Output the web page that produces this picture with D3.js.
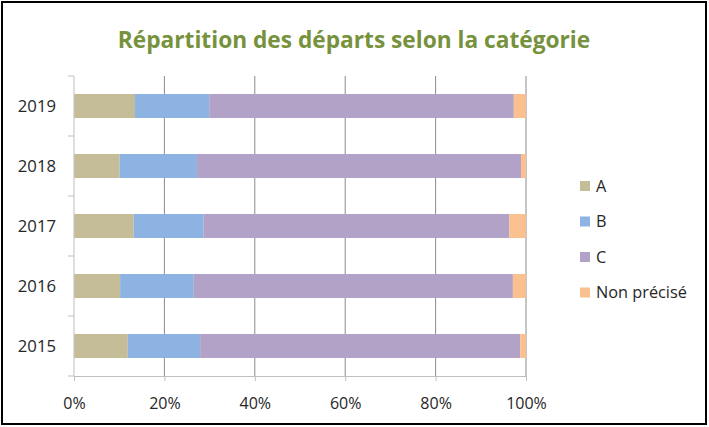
<!DOCTYPE html>
<html>
<head>
<meta charset="utf-8">
<script src="https://cdn.jsdelivr.net/npm/d3@7"></script>
<style>
  body { margin: 0; background: #fff; }
  text { font-family: "Open Sans", "Noto Sans", sans-serif; fill: #262626; }
</style>
</head>
<body>
<svg id="chart" width="709" height="427"></svg>
<script>
// Data (share in %)
const years = ["2015", "2016", "2017", "2018", "2019"];
const categories = ["A", "B", "C", "Non précisé"];
const valuesA = [11.9, 10.2, 13.2, 10.1, 13.5];
const valuesB = [16.0, 16.3, 15.5, 17.1, 16.4];
const valuesC = [70.8, 70.6, 67.6, 71.7, 67.4];
const valuesNP = [1.3, 2.9, 3.7, 1.1, 2.7];
const xTicks = [0, 20, 40, 60, 80, 100];
const colors = ["#c4bd97", "#8db3e2", "#b2a2c7", "#fac090"];

const svg = d3.select("#chart");

// outer frame
svg.append("rect")
  .attr("x", 2).attr("y", 2)
  .attr("width", 704).attr("height", 422)
  .attr("fill", "#fff").attr("stroke", "#000").attr("stroke-width", 2);

// title
svg.append("text")
  .attr("x", 354).attr("y", 48)
  .attr("text-anchor", "middle")
  .style("font-size", "22.7px").style("font-weight", "bold")
  .style("fill", "#76923c")
  .text("Répartition des départs selon la catégorie");

const margin = { top: 76, left: 74 };
const width = 452, height = 300;

const g = svg.append("g")
  .attr("transform", "translate(" + margin.left + "," + margin.top + ")");

const x = d3.scaleLinear().domain([0, 100]).range([0, width]);
// 2019 on top
const y = d3.scaleBand().domain(years.slice().reverse()).range([0, height]).paddingInner(0.6).paddingOuter(0.3);

// gridlines
g.selectAll("line.grid")
  .data(xTicks.slice(1))
  .enter().append("line")
  .attr("class", "grid")
  .attr("x1", d => x(d)).attr("x2", d => x(d))
  .attr("y1", 0).attr("y2", height)
  .attr("stroke", "#8c8c8c").attr("stroke-width", 1);

// stacked series
const rows = years.map((yr, i) => ({
  year: yr,
  "A": valuesA[i],
  "B": valuesB[i],
  "C": valuesC[i],
  "Non précisé": valuesNP[i]
}));
const series = d3.stack().keys(categories)(rows);

g.selectAll("g.series")
  .data(series)
  .enter().append("g")
  .attr("class", "series")
  .attr("fill", (d, i) => colors[i])
  .selectAll("rect")
  .data(d => d)
  .enter().append("rect")
  .attr("x", d => x(d[0]))
  .attr("width", d => x(d[1]) - x(d[0]))
  .attr("y", d => y(d.data.year))
  .attr("height", y.bandwidth());

// x axis
const xAxis = g.append("g")
  .attr("transform", "translate(0," + height + ")")
  .call(d3.axisBottom(x).tickValues(xTicks).tickFormat(d => d + "%").tickSize(5).tickSizeOuter(0));
xAxis.select(".domain").attr("stroke", "#bfbfbf");
xAxis.selectAll(".tick line").attr("stroke", "#bfbfbf");
xAxis.selectAll(".tick text")
  .attr("y", 22)
  .style("font-size", "16px")
  .style("font-family", "'Open Sans', sans-serif")
  .attr("fill", "#262626");

// y axis: ticks sit on category boundaries
const yAxis = g.append("g");
yAxis.append("line")
  .attr("x1", 0).attr("x2", 0).attr("y1", 0).attr("y2", height)
  .attr("stroke", "#bfbfbf");
const step = height / years.length;
yAxis.selectAll("line.ytick")
  .data(d3.range(years.length + 1))
  .enter().append("line")
  .attr("class", "ytick")
  .attr("x1", -6).attr("x2", 0)
  .attr("y1", d => d * step).attr("y2", d => d * step)
  .attr("stroke", "#bfbfbf");
yAxis.selectAll("text")
  .data(years)
  .enter().append("text")
  .attr("x", -18)
  .attr("y", d => y(d) + y.bandwidth() / 2)
  .attr("dy", "0.35em")
  .attr("text-anchor", "end")
  .style("font-size", "16.7px")
  .text(d => d);

// legend
const legend = svg.append("g").attr("transform", "translate(580,186)");
const item = legend.selectAll("g")
  .data(categories)
  .enter().append("g")
  .attr("transform", (d, i) => "translate(0," + i * 35.5 + ")");
item.append("rect")
  .attr("x", 0).attr("y", -5)
  .attr("width", 10).attr("height", 10)
  .attr("fill", (d, i) => colors[i]);
item.append("text")
  .attr("x", 16).attr("dy", "0.35em")
  .style("font-size", "16.3px")
  .text(d => d);
</script>
</body>
</html>
